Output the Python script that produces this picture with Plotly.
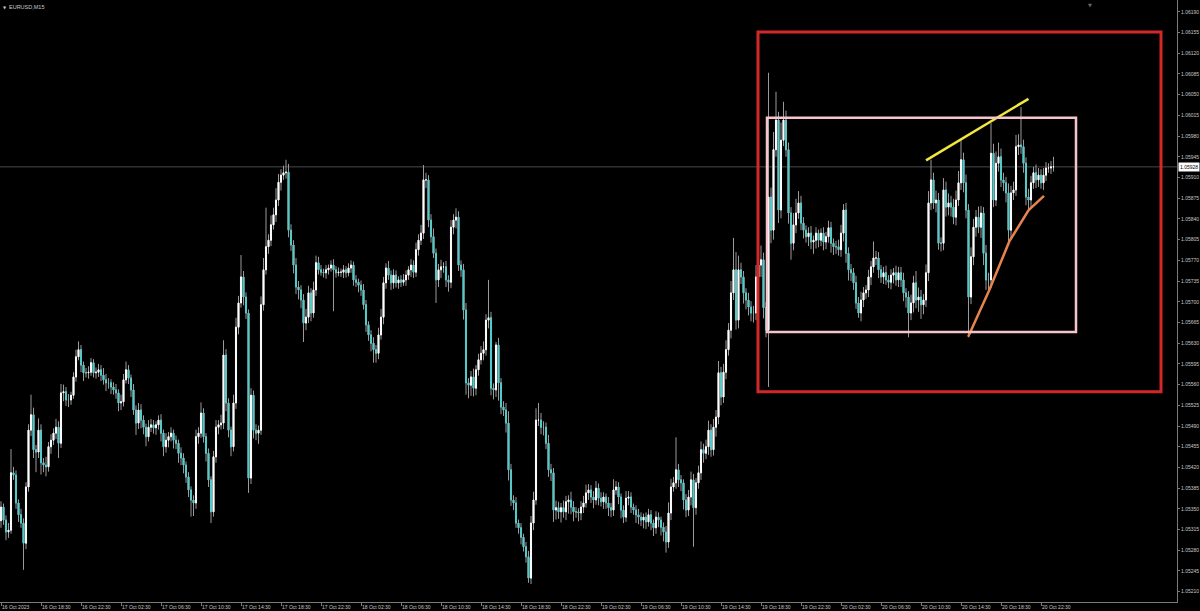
import pandas as pd
import plotly.graph_objects as go

# ---------------- data ----------------
symbol = "EURUSD,M15"
first_bar = "2023-10-16 14:30"
bar_minutes = 15
first_open = 1.05330

closes = [
    1.05353, 1.05331, 1.05311, 1.05314, 1.05411, 1.05407, 1.05360, 1.05340, 1.05326, 1.05292,
    1.05387, 1.05483, 1.05509, 1.05450, 1.05446, 1.05483, 1.05428, 1.05424, 1.05421, 1.05455,
    1.05466, 1.05478, 1.05488, 1.05461, 1.05546, 1.05548, 1.05534, 1.05534, 1.05542, 1.05573,
    1.05607, 1.05619, 1.05593, 1.05580, 1.05580, 1.05581, 1.05597, 1.05580, 1.05581, 1.05585,
    1.05576, 1.05568, 1.05563, 1.05563, 1.05556, 1.05551, 1.05546, 1.05529, 1.05531, 1.05568,
    1.05585, 1.05571, 1.05551, 1.05517, 1.05495, 1.05517, 1.05500, 1.05488, 1.05472, 1.05488,
    1.05492, 1.05487, 1.05492, 1.05500, 1.05478, 1.05455, 1.05466, 1.05472, 1.05478, 1.05466,
    1.05461, 1.05444, 1.05436, 1.05424, 1.05404, 1.05382, 1.05365, 1.05360, 1.05472, 1.05478,
    1.05512, 1.05472, 1.05444, 1.05399, 1.05345, 1.05438, 1.05488, 1.05492, 1.05495, 1.05610,
    1.05529, 1.05483, 1.05455, 1.05529, 1.05657, 1.05698, 1.05742, 1.05708, 1.05681, 1.05402,
    1.05542, 1.05483, 1.05478, 1.05483, 1.05695, 1.05754, 1.05793, 1.05804, 1.05830, 1.05847,
    1.05872, 1.05902, 1.05914, 1.05918, 1.05919, 1.05821, 1.05796, 1.05762, 1.05725, 1.05720,
    1.05703, 1.05664, 1.05674, 1.05715, 1.05681, 1.05720, 1.05766, 1.05754, 1.05750, 1.05749,
    1.05754, 1.05757, 1.05762, 1.05754, 1.05749, 1.05750, 1.05750, 1.05754, 1.05749, 1.05757,
    1.05762, 1.05737, 1.05733, 1.05728, 1.05720, 1.05695, 1.05661, 1.05644, 1.05630, 1.05619,
    1.05613, 1.05644, 1.05674, 1.05732, 1.05757, 1.05745, 1.05732, 1.05745, 1.05732, 1.05737,
    1.05733, 1.05737, 1.05745, 1.05754, 1.05762, 1.05750, 1.05788, 1.05804, 1.05816, 1.05906,
    1.05906, 1.05838, 1.05810, 1.05782, 1.05737, 1.05754, 1.05759, 1.05759, 1.05737, 1.05733,
    1.05826, 1.05838, 1.05843, 1.05762, 1.05754, 1.05686, 1.05563, 1.05559, 1.05573, 1.05554,
    1.05585, 1.05602, 1.05613, 1.05619, 1.05669, 1.05673, 1.05554, 1.05551, 1.05627, 1.05563,
    1.05522, 1.05517, 1.05495, 1.05416, 1.05365, 1.05360, 1.05326, 1.05318, 1.05302, 1.05286,
    1.05269, 1.05233, 1.05326, 1.05365, 1.05500, 1.05500, 1.05488, 1.05488, 1.05461, 1.05416,
    1.05411, 1.05348, 1.05352, 1.05345, 1.05352, 1.05345, 1.05362, 1.05365, 1.05353, 1.05345,
    1.05345, 1.05343, 1.05353, 1.05360, 1.05377, 1.05382, 1.05370, 1.05365, 1.05385, 1.05368,
    1.05362, 1.05370, 1.05360, 1.05352, 1.05348, 1.05382, 1.05387, 1.05370, 1.05348, 1.05336,
    1.05368, 1.05370, 1.05353, 1.05348, 1.05340, 1.05336, 1.05331, 1.05336, 1.05328, 1.05340,
    1.05326, 1.05318, 1.05336, 1.05331, 1.05319, 1.05311, 1.05294, 1.05343, 1.05387, 1.05394,
    1.05416, 1.05399, 1.05394, 1.05365, 1.05348, 1.05370, 1.05399, 1.05352, 1.05394, 1.05411,
    1.05450, 1.05444, 1.05455, 1.05483, 1.05450, 1.05488, 1.05505, 1.05580, 1.05539, 1.05581,
    1.05619, 1.05652, 1.05715, 1.05754, 1.05669, 1.05754, 1.05742, 1.05715, 1.05703, 1.05691,
    1.05681, 1.05681, 1.05742, 1.05762, 1.05771, 1.05690, 1.05652, 1.05877, 1.05821, 1.05957,
    1.06007, 1.05855, 1.05973, 1.06007, 1.05957, 1.05850, 1.05799, 1.05830, 1.05850, 1.05867,
    1.05833, 1.05821, 1.05810, 1.05816, 1.05801, 1.05804, 1.05816, 1.05804, 1.05816, 1.05801,
    1.05810, 1.05825, 1.05799, 1.05793, 1.05793, 1.05788, 1.05816, 1.05855, 1.05782, 1.05754,
    1.05749, 1.05732, 1.05698, 1.05681, 1.05703, 1.05715, 1.05720, 1.05742, 1.05759, 1.05774,
    1.05774, 1.05754, 1.05742, 1.05749, 1.05737, 1.05733, 1.05745, 1.05749, 1.05737, 1.05749,
    1.05737, 1.05715, 1.05708, 1.05681, 1.05698, 1.05732, 1.05703, 1.05708, 1.05695, 1.05703,
    1.05749, 1.05867, 1.05906, 1.05867, 1.05872, 1.05799, 1.05799, 1.05889, 1.05860, 1.05867,
    1.05860, 1.05843, 1.05872, 1.05901, 1.05940, 1.05901, 1.05855, 1.05708, 1.05776, 1.05826,
    1.05843, 1.05826, 1.05850, 1.05782, 1.05737, 1.05737, 1.05951, 1.05872, 1.05934, 1.05945,
    1.05906, 1.05901, 1.05884, 1.05821, 1.05884, 1.05889, 1.05962, 1.05965, 1.05962, 1.05934,
    1.05877, 1.05872, 1.05901, 1.05918, 1.05906, 1.05914, 1.05901, 1.05914, 1.05926, 1.05926,
    1.05928, 1.05928,
]

# wick lengths above / below the candle body, in points (0.00001)
upper_wick_pts = [
    10, 6, 8, 12, 40, 10, 8, 6, 10, 8, 8, 10, 34, 12, 8, 20, 10, 8, 14, 8,
    10, 8, 14, 10, 15, 12, 8, 10, 6, 8, 12, 14, 8, 6, 8, 10, 8, 6, 8, 10,
    8, 12, 10, 8, 6, 8, 10, 6, 12, 10, 14, 8, 6, 10, 8, 12, 10, 8, 6, 12,
    10, 8, 6, 8, 10, 6, 12, 8, 10, 6, 8, 6, 10, 8, 6, 8, 6, 8, 12, 10,
    18, 8, 6, 8, 6, 10, 12, 8, 14, 25, 10, 8, 6, 14, 16, 12, 37, 10, 8, 6,
    12, 8, 10, 8, 14, 20, 66, 10, 16, 12, 20, 14, 10, 12, 21, 14, 10, 8, 12, 10,
    8, 10, 14, 12, 8, 14, 12, 10, 8, 6, 8, 6, 8, 10, 6, 8, 6, 8, 6, 8,
    8, 6, 8, 6, 8, 10, 8, 6, 8, 10, 8, 12, 14, 10, 8, 12, 8, 10, 8, 6,
    8, 10, 8, 6, 10, 8, 12, 10, 14, 25, 12, 8, 10, 14, 8, 10, 12, 8, 10, 8,
    12, 10, 15, 10, 8, 10, 12, 8, 10, 14, 8, 10, 12, 14, 10, 64, 10, 8, 5, 12,
    8, 10, 12, 20, 10, 8, 10, 6, 8, 6, 8, 10, 12, 14, 20, 29, 12, 10, 8, 14,
    10, 8, 12, 10, 8, 12, 10, 8, 14, 10, 8, 6, 10, 12, 14, 10, 8, 10, 12, 8,
    10, 8, 6, 10, 8, 18, 10, 8, 6, 8, 12, 10, 8, 6, 8, 10, 8, 6, 8, 10,
    8, 6, 10, 8, 6, 8, 10, 18, 14, 10, 55, 10, 8, 6, 10, 12, 14, 10, 8, 12,
    14, 10, 12, 16, 10, 14, 12, 20, 10, 14, 16, 12, 20, 54, 30, 24, 12, 10, 8, 12,
    10, 12, 20, 16, 24, 12, 10, 210, 16, 30, 48, 14, 30, 31, 16, 12, 10, 20, 24, 20,
    12, 10, 8, 10, 12, 8, 10, 6, 8, 10, 8, 12, 10, 8, 10, 12, 14, 10, 12, 10,
    10, 8, 12, 10, 14, 10, 8, 12, 10, 28, 12, 10, 8, 10, 12, 8, 10, 8, 12, 10,
    10, 12, 8, 10, 14, 12, 20, 16, 12, 10, 14, 20, 34, 12, 16, 12, 10, 20, 14, 16,
    12, 14, 16, 20, 33, 12, 14, 10, 16, 14, 12, 18, 12, 10, 14, 12, 51, 16, 20, 24,
    14, 12, 10, 16, 12, 14, 20, 18, 64, 12, 10, 14, 12, 10, 14, 12, 10, 12, 10, 8, 10, 17,
]
lower_wick_pts = [
    12, 8, 14, 10, 6, 8, 10, 12, 8, 45, 10, 8, 10, 14, 34, 10, 20, 12, 16, 8,
    12, 8, 10, 25, 8, 14, 10, 12, 8, 6, 8, 6, 12, 14, 8, 10, 6, 8, 10, 8,
    10, 8, 14, 10, 12, 8, 10, 14, 12, 8, 6, 10, 12, 8, 20, 10, 14, 12, 16, 8,
    8, 10, 12, 8, 14, 16, 10, 12, 8, 14, 10, 16, 12, 14, 10, 12, 28, 22, 10, 12,
    8, 10, 14, 12, 19, 8, 10, 12, 8, 10, 14, 12, 16, 8, 10, 12, 8, 14, 10, 25,
    10, 14, 12, 18, 8, 10, 8, 12, 10, 8, 12, 10, 14, 8, 10, 12, 10, 14, 12, 16,
    14, 32, 12, 10, 14, 8, 10, 8, 6, 8, 10, 8, 6, 70, 8, 6, 8, 10, 8, 6,
    8, 10, 8, 12, 10, 8, 12, 10, 14, 22, 16, 10, 8, 12, 10, 8, 12, 10, 8, 10,
    8, 6, 10, 8, 12, 10, 8, 10, 8, 10, 14, 12, 10, 8, 39, 12, 14, 10, 12, 16,
    10, 12, 14, 10, 12, 16, 20, 22, 18, 14, 12, 10, 8, 12, 10, 14, 12, 16, 12, 30,
    12, 10, 16, 18, 10, 12, 8, 10, 12, 8, 10, 8, 10, 12, 8, 10, 12, 14, 10, 12,
    14, 20, 16, 12, 18, 10, 14, 20, 12, 16, 10, 14, 12, 10, 8, 12, 10, 14, 8, 12,
    8, 12, 10, 14, 12, 10, 8, 12, 14, 10, 8, 12, 10, 8, 14, 12, 10, 14, 12, 8,
    12, 14, 10, 12, 14, 16, 18, 10, 12, 8, 10, 12, 14, 16, 12, 10, 14, 66, 12, 10,
    12, 16, 10, 14, 12, 10, 16, 12, 14, 10, 12, 10, 14, 12, 16, 14, 12, 18, 16, 14,
    14, 16, 12, 10, 20, 18, 12, 96, 22, 16, 12, 22, 14, 10, 12, 18, 28, 12, 14, 10,
    12, 14, 10, 16, 12, 20, 14, 12, 10, 14, 12, 10, 16, 14, 12, 10, 12, 14, 16, 18,
    14, 12, 10, 8, 14, 12, 10, 12, 14, 10, 12, 14, 10, 12, 8, 10, 12, 14, 10, 12,
    12, 14, 18, 41, 12, 16, 14, 20, 24, 16, 12, 14, 12, 10, 16, 11, 14, 12, 16, 14,
    16, 12, 14, 10, 12, 16, 14, 68, 12, 14, 16, 10, 18, 20, 17, 17, 14, 12, 10, 14,
    12, 14, 16, 20, 14, 12, 10, 14, 12, 16, 14, 20, 12, 10, 14, 12, 10, 12, 10, 8, 10, 8,
]

# x-axis labels, one every 16 bars (4 hours)
tick_labels = [
    "16 Oct 2023", "16 Oct 18:30", "16 Oct 22:30",
    "17 Oct 02:30", "17 Oct 06:30", "17 Oct 10:30", "17 Oct 14:30", "17 Oct 18:30", "17 Oct 22:30",
    "18 Oct 02:30", "18 Oct 06:30", "18 Oct 10:30", "18 Oct 14:30", "18 Oct 18:30", "18 Oct 22:30",
    "19 Oct 02:30", "19 Oct 06:30", "19 Oct 10:30", "19 Oct 14:30", "19 Oct 18:30", "19 Oct 22:30",
    "20 Oct 02:30", "20 Oct 06:30", "20 Oct 10:30", "20 Oct 14:30", "20 Oct 18:30", "20 Oct 22:30",
]
price_ticks = [
    1.05210, 1.05245, 1.05280, 1.05315, 1.05350, 1.05385, 1.05420, 1.05455, 1.05490, 1.05525,
    1.05560, 1.05595, 1.05630, 1.05665, 1.05700, 1.05735, 1.05770, 1.05805, 1.05840, 1.05875,
    1.05910, 1.05945, 1.05980, 1.06015, 1.06050, 1.06085, 1.06120, 1.06155, 1.06190,
]

# analyst drawings (time, price)
red_box = {"t0": "2023-10-19 18:12", "t1": "2023-10-21 10:30", "p0": 1.05548, "p1": 1.06156}
pink_box = {"t0": "2023-10-19 19:06", "t1": "2023-10-21 02:00", "p0": 1.05649, "p1": 1.06011}
yellow_times = ["2023-10-20 11:00", "2023-10-20 21:15"]
yellow_prices = [1.05939, 1.06043]
orange_times = ["2023-10-20 15:13", "2023-10-20 17:20", "2023-10-20 19:20",
                "2023-10-20 21:16", "2023-10-20 22:48"]
orange_prices = [1.05641, 1.05720, 1.05802, 1.05855, 1.05879]

# ---------------- derived OHLC ----------------
opens = [first_open] + closes[:-1]
highs = [max(o, c) + u * 1e-5 for o, c, u in zip(opens, closes, upper_wick_pts)]
lows = [min(o, c) - d * 1e-5 for o, c, d in zip(opens, closes, lower_wick_pts)]
body_hi = [max(o, c) for o, c in zip(opens, closes)]
body_lo = [min(o, c) for o, c in zip(opens, closes)]

t0 = pd.Timestamp(first_bar)
step = pd.Timedelta(minutes=bar_minutes)
times = [t0 + step * i for i in range(len(closes))]
tick_times = [t0 + step * 16 * k for k in range(len(tick_labels))]

BULL = "#ffffff"
BEAR = "#52cccc"
WICK = "#9a9a9a"
TXT = "#c8c8c8"
AXIS = "#7a7a7a"
FONT = "Liberation Sans"

fig = go.Figure()

# wicks
fig.add_trace(go.Candlestick(
    x=times, open=opens, high=highs, low=lows, close=closes,
    increasing=dict(line=dict(color=WICK, width=1), fillcolor=WICK),
    decreasing=dict(line=dict(color=WICK, width=1), fillcolor=WICK),
    whiskerwidth=0, hoverinfo="skip", showlegend=False,
))
# bodies
fig.add_trace(go.Candlestick(
    x=times, open=opens, high=body_hi, low=body_lo, close=closes,
    increasing=dict(line=dict(color=BULL, width=0.9), fillcolor=BULL),
    decreasing=dict(line=dict(color=BEAR, width=0.9), fillcolor=BEAR),
    whiskerwidth=0, showlegend=False,
))

# trend lines
fig.add_trace(go.Scatter(x=yellow_times, y=yellow_prices, mode="lines",
                         line=dict(color="#f2e640", width=2.5), showlegend=False, hoverinfo="skip"))
fig.add_trace(go.Scatter(x=orange_times, y=orange_prices, mode="lines",
                         line=dict(color="#e8834d", width=2.5), showlegend=False, hoverinfo="skip"))

last_price = closes[-1]
shapes = [
    dict(type="line", xref="paper", x0=0, x1=1, yref="y", y0=last_price, y1=last_price,
         line=dict(color="#4a4a4a", width=1), layer="below"),
    dict(type="rect", xref="x", yref="y", x0=red_box["t0"], x1=red_box["t1"],
         y0=red_box["p0"], y1=red_box["p1"], line=dict(color="#d42828", width=3)),
    dict(type="rect", xref="x", yref="y", x0=pink_box["t0"], x1=pink_box["t1"],
         y0=pink_box["p0"], y1=pink_box["p1"], line=dict(color="#f6c4cc", width=2.5)),
]

annotations = [
    dict(xref="paper", yref="paper", x=7 / 1177, y=1, xanchor="left", yanchor="top",
         text=symbol, showarrow=False, font=dict(family=FONT, size=5.5, color=TXT), yshift=-2),
    dict(xref="paper", yref="paper", x=1 / 1177, y=1, xanchor="left", yanchor="top",
         text="▼", showarrow=False, font=dict(family="DejaVu Sans", size=4, color=TXT), yshift=-3),
    dict(xref="paper", yref="paper", x=1090 / 1177, y=1, xanchor="center", yanchor="top",
         text="▼", showarrow=False, font=dict(family="DejaVu Sans", size=5, color="#6a6a6a")),
    dict(xref="paper", yref="y", x=1, y=last_price, xanchor="left", yanchor="middle",
         text=f"{last_price:.5f}", showarrow=False, xshift=1,
         font=dict(family=FONT, size=5, color="#000000"), bgcolor="#ffffff", borderpad=1),
]

x_start = t0 - step * 0.4
x_end = t0 + step * 470.4
y_lo = 1.051926
y_hi = 1.06210

fig.update_layout(
    width=1200, height=611,
    margin=dict(l=0, r=23, t=0, b=9),
    paper_bgcolor="#000000", plot_bgcolor="#000000",
    showlegend=False,
    boxgap=0.4,
    shapes=shapes, annotations=annotations,
    font=dict(family=FONT, size=5, color=TXT),
    xaxis=dict(
        type="date", range=[x_start, x_end], rangeslider=dict(visible=False),
        tickvals=tick_times, ticktext=tick_labels, ticks="outside", ticklen=3,
        tickcolor=AXIS, ticklabelposition="outside right",
        tickfont=dict(family=FONT, size=5, color=TXT),
        showline=True, linecolor=AXIS, linewidth=1, showgrid=False, zeroline=False,
        automargin=False,
    ),
    yaxis=dict(
        side="right", range=[y_lo, y_hi], tickvals=price_ticks, tickformat=".5f",
        ticks="outside", ticklen=2, tickcolor=AXIS,
        tickfont=dict(family=FONT, size=5, color=TXT),
        showline=True, linecolor=AXIS, linewidth=1, showgrid=False, zeroline=False,
        automargin=False,
    ),
)

fig.write_html("out.html", config={"displayModeBar": False},
               post_script="document.body.style.margin='0';")
